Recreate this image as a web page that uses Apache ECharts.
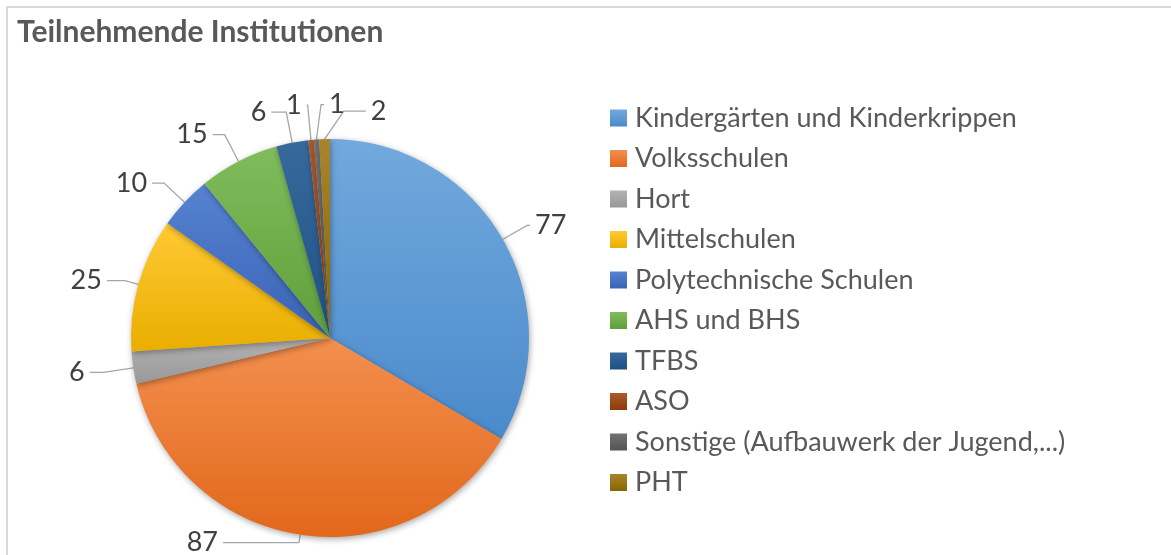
<!DOCTYPE html>
<html lang="de">
<head>
    <meta charset="UTF-8">
    <script type="text/javascript" src="https://cdn.jsdelivr.net/npm/echarts@6/dist/echarts.min.js"></script>
    <style>
        html, body {margin: 0; padding: 0; background: #fff;}
        #chart {width: 1171px; height: 555px;}
    </style>
</head>
<body>
<div id="chart"></div>
<script>
    var titleText = 'Teilnehmende Institutionen';
    var categories = ['Kindergärten und Kinderkrippen', 'Volksschulen', 'Hort', 'Mittelschulen',
        'Polytechnische Schulen', 'AHS und BHS', 'TFBS', 'ASO', 'Sonstige (Aufbauwerk der Jugend,...)', 'PHT'];
    var values = [77, 87, 6, 25, 10, 15, 6, 1, 1, 2];

    // Office-Farben, oben heller / unten dunkler
    var topColors = ['#72a9dd', '#f38f4f', '#b3b3b3', '#ffca33', '#5683d2', '#80bc5c', '#37699d', '#aa5a2c', '#727272', '#a8842c'];
    var bottomColors = ['#4a8acb', '#e2681a', '#989898', '#eaae00', '#3a62b4', '#5f9f3a', '#1d5183', '#8c3c08', '#545454', '#886600'];

    // Führungslinien: [radial, horizontal, nach rechts kippen, Knick]
    var guideStyle = [
        [28, 3, false, 0],
        [8, 76, false, 0],
        [30, 14, false, 0],
        [14, 18, false, 0],
        [28, 12, false, 0],
        [30, 12, false, 0],
        [31, 15, false, 0],
        [35, 1, false, 0],
        [35, 3, true, 7],
        [28, 22, true, 20]
    ];

    function grad(i) {
        return new echarts.graphic.LinearGradient(0, 0, 0, 1, [
            {offset: 0, color: topColors[i]},
            {offset: 1, color: bottomColors[i]}
        ]);
    }

    var pieData = categories.map(function (name, i) {
        return {
            name: name,
            value: values[i],
            itemStyle: {color: grad(i)},
            labelLine: {length: guideStyle[i][0], length2: guideStyle[i][1]}
        };
    });

    var chart = echarts.init(document.getElementById('chart'));
    chart.setOption({
        backgroundColor: '#fff',
        animation: false,
        title: {
            text: titleText,
            left: 17,
            top: 17,
            padding: 0,
            textStyle: {
                color: '#595959',
                fontFamily: 'Lato',
                fontWeight: 'bold',
                fontSize: 30
            }
        },
        legend: {
            orient: 'vertical',
            left: 610,
            top: 103,
            padding: 0,
            icon: 'rect',
            itemWidth: 17,
            itemHeight: 17,
            itemGap: 10.5,
            selectedMode: false,
            textStyle: {
                color: '#595959',
                fontFamily: 'Lato',
                fontSize: 27,
                lineHeight: 30,
                padding: [0, 0, 0, 3]
            },
            data: categories
        },
        graphic: [{
            type: 'polyline',
            silent: true,
            shape: {points: [[7, 560], [7, 7], [1180, 7]]},
            style: {stroke: '#d9d9d9', lineWidth: 2, fill: null}
        }],
        series: [{
            type: 'pie',
            center: [330, 338],
            radius: 199,
            startAngle: 90,
            clockwise: true,
            avoidLabelOverlap: false,
            data: pieData,
            itemStyle: {
                shadowBlur: 6,
                shadowColor: 'rgba(0,0,0,0.35)',
                shadowOffsetX: 1,
                shadowOffsetY: 2
            },
            label: {
                show: true,
                formatter: '{c}',
                color: '#404040',
                fontFamily: 'Lato',
                fontSize: 27,
                padding: [0, 0, 18, 0]
            },
            labelLine: {
                show: true,
                lineStyle: {color: '#a6a6a6', width: 1.3}
            },
            labelLayout: function (params) {
                var g = guideStyle[params.dataIndex];
                if (!g[2] || !params.labelLinePoints) return {};
                var p = params.labelLinePoints;
                var p0 = [p[0][0], p[0][1]];
                var p1 = [p[1][0] + g[3], p[1][1]];
                var p2 = [p1[0] + g[1], p1[1]];
                return {
                    x: p2[0] + 5,
                    y: p2[1],
                    align: 'left',
                    verticalAlign: 'middle',
                    labelLinePoints: [p0, p1, p2]
                };
            },
            emphasis: {disabled: true}
        }]
    });
</script>
</body>
</html>
